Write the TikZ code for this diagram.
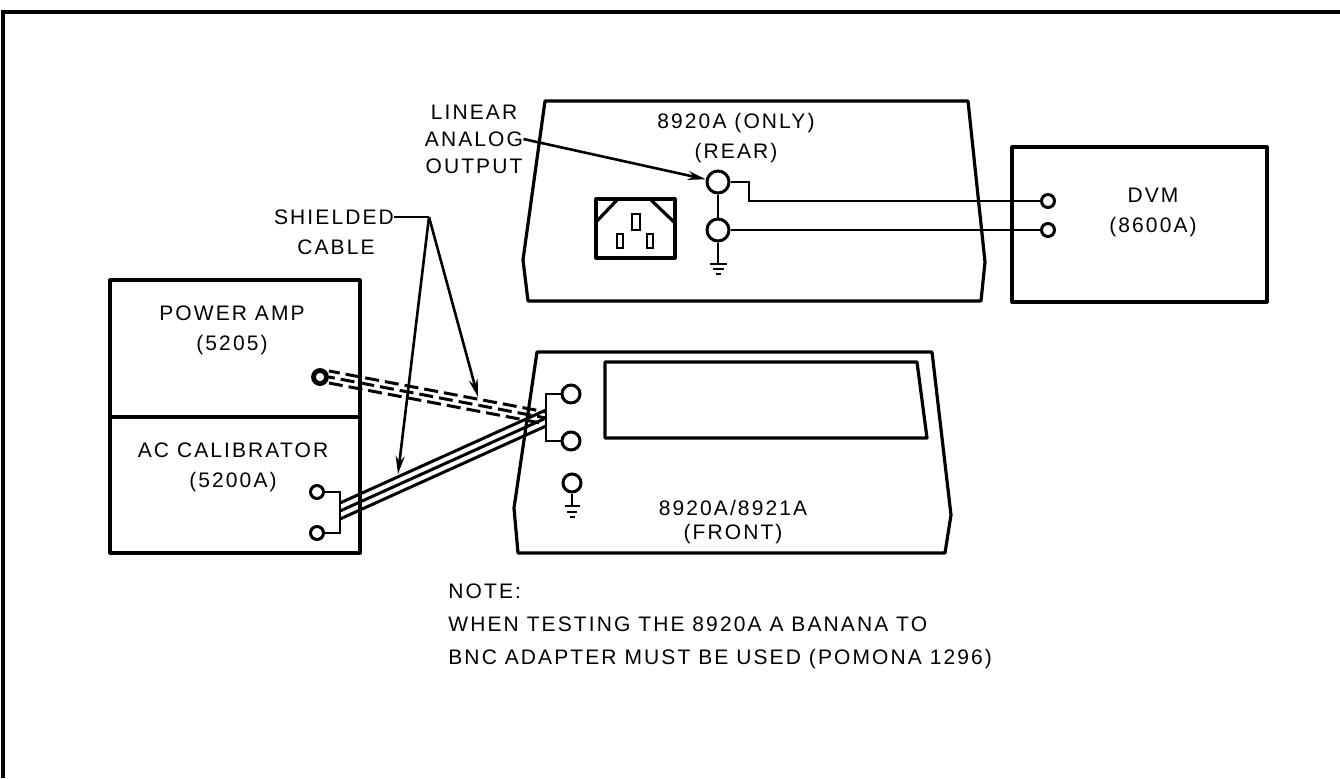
\documentclass[tikz,border=0pt]{standalone}
\usepackage{fontspec}
\setmainfont{Liberation Sans}[LetterSpace=10]
\usetikzlibrary{arrows.meta}

\tikzset{
  box/.style={line width=1.6pt, line join=round},
  wire/.style={line width=1.4pt},
  cable/.style={line width=1.5pt},
  dcable/.style={line width=1.5pt, dash pattern=on 7pt off 3pt},
  ptr/.style={line width=1.3pt, -{Stealth[length=9pt,width=4.5pt]}},
  bigterm/.style={circle, draw, line width=1.5pt, minimum size=11pt, inner sep=0pt},
  midterm/.style={circle, draw, line width=1.5pt, minimum size=9pt, inner sep=0pt},
  smterm/.style={circle, draw, line width=1.5pt, minimum size=6.5pt, inner sep=0pt},
  lbl/.style={align=center, font=\fontsize{10.5}{15}\selectfont, inner sep=0pt},
}

\begin{document}
\begin{tikzpicture}[x=0.5pt, y=-0.5pt]
\useasboundingbox (0,0) rectangle (1340,778);

% Drawing frame
\draw [line width=2.2pt] (3,778) -- (3,12) -- (1340,12);

% Drawing rear panel 8920A
\draw [box] (545,101) -- (968,101) -- (985,262) -- (981,301) -- (528,301) -- (523,260) -- cycle;
\node [lbl] (reartxt) at (736,138) {8920A (ONLY)\\(REAR)};

% Drawing power socket
\draw [box] (596,199) rectangle (675,258);
\draw [box] (618,199) -- (596,222);
\draw [box] (650,199) -- (675,223);
\draw [wire] (632,214) rectangle (640,230);
\draw [wire] (617,234) rectangle (623,248);
\draw [wire] (647,234) rectangle (653,248);

% Marking rear terminals
\node [bigterm] (rout) at (718,182) {};
\node [bigterm] (rcom) at (718,230) {};
\draw [wire] (rout) -- (rcom);
\draw [wire] (rcom.south) -- (718,264);
\draw [wire] (709.5,264) -- (726.5,264);
\draw [wire] (712.5,269) -- (723.5,269);
\draw [wire] (715.5,274) -- (720.5,274);

% Drawing box DVM
\draw [box] (1012,147) rectangle (1267,302);
\node [lbl] (dvmtxt) at (1153,212) {DVM\\(8600A)};
\node [smterm] (dhi) at (1048,201) {};
\node [smterm] (dlo) at (1048,230) {};

% Drawing wires rear to DVM
\draw [wire] (rout.east) -- (749,182) |- (dhi.west);
\draw [wire] (rcom.east) -- (dlo.west);

% Label linear analog output
\node [lbl, font=\fontsize{10.5}{13.5}\selectfont] (linout) at (474,139) {LINEAR\\ANALOG\\OUTPUT};
\draw [ptr] (linout.east) -- (rout);

% Drawing box power amp / ac calibrator
\draw [box] (110,280) rectangle (360,553);
\draw [box] (110,417) -- (360,417);
\node [lbl] (pamptxt) at (232,330) {POWER AMP\\(5205)};
\node [lbl] (acaltxt) at (233,467) {AC CALIBRATOR\\(5200A)};
\node [smterm, line width=2.4pt] (paout) at (320,377) {};
\node [smterm] (achi) at (317,492) {};
\node [smterm] (aclo) at (317,533) {};
\coordinate (acbrk) at (340,511);
\draw [wire] (achi.east) -| (acbrk) |- (aclo.east);

% Drawing front panel 8920A/8921A
\draw [box] (537,352) -- (932,352) -- (951,515) -- (945,553) -- (518,553) -- (514,508) -- cycle;
\draw [box] (605,362) -- (917,362) -- (927,438) -- (605,438) -- cycle;
\node [lbl, font=\fontsize{10.5}{12}\selectfont] (fronttxt) at (733,522) {8920A/8921A\\(FRONT)};
\node [midterm] (fhi) at (571,394) {};
\node [midterm] (flo) at (571,441) {};
\node [midterm] (fgnd) at (572,483) {};
\coordinate (fbrk) at (546,418);
\draw [wire] (fhi.west) -| (fbrk) |- (flo.west);
\draw [wire] (fgnd.south) -- (572,506);
\draw [wire] (564.5,506) -- (579.5,506);
\draw [wire] (567,512) -- (577,512);
\draw [wire] (569.5,517) -- (574.5,517);

% Drawing cables
\foreach \o in {-4pt,0pt,4pt}
  \draw [cable] ([yshift=\o]acbrk) -- ([yshift=\o]fbrk);
\foreach \o/\ph in {-3pt/0pt,0pt/4pt,3pt/1.5pt}
  \draw [dcable, dash phase=\ph] ([yshift=\o]paout.east) -- ([yshift=\o]fbrk);

% Label shielded cable
\node [lbl] (shld) at (334,217) {SHIELDED};
\node [lbl] (cbl) at (336,247) {CABLE};
\coordinate (sjoin) at (429,217);
\coordinate (stip) at (398,474);
\coordinate (dtip) at (478,397);
\draw [wire] (shld.east) -- (sjoin);
\draw [ptr] (sjoin) -- (stip);
\draw [ptr] (sjoin) -- (dtip);

% Note
\node [lbl, align=left, anchor=north west, font=\fontsize{10.5}{16.5}\selectfont] (note) at (448,583)
  {NOTE:\\WHEN TESTING THE 8920A A BANANA TO\\BNC ADAPTER MUST BE USED (POMONA 1296)};
\end{tikzpicture}
\end{document}
